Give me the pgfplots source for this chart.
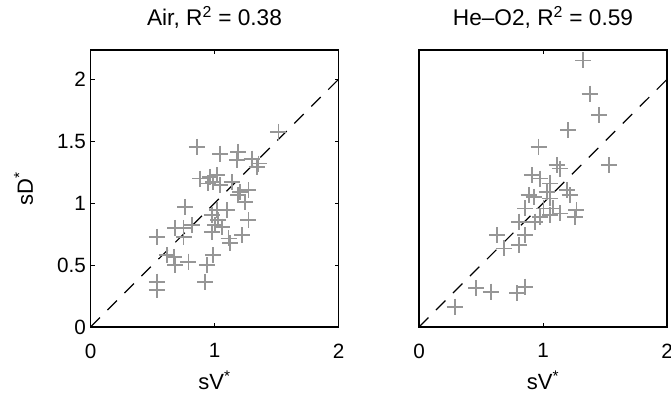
\documentclass[border=0pt]{standalone}
\usepackage{fontspec}
\setmainfont{Liberation Sans}
\usepackage{pgfplots}
\pgfplotsset{compat=1.18}
\definecolor{crossgray}{RGB}{150,150,150}
\begin{document}
\begin{tikzpicture}[x=1pt,y=1pt]
\pgfplotsset{
  every axis/.append style={
    scale only axis, width=186pt, height=208pt,
    xmin=0, xmax=2, ymin=0, ymax=2.24,
    xtick={0,1,2},
    tick align=inside, major tick length=3pt,
    axis line style={line width=1.3pt},
    tick style={line width=0.7pt, black},
    font=\fontsize{15.5}{18}\selectfont,
    /pgf/number format/assume math mode=true,
    title style={at={(axis description cs:0.5,1)}, anchor=center, yshift=18pt, font=\fontsize{17}{20}\selectfont},
    xlabel style={at={(axis description cs:0.5,0)}, anchor=center, yshift=-40pt, font=\fontsize{16.5}{20}\selectfont},
    xticklabel style={yshift=-9pt},
  },
}
\begin{axis}[at={(0,0)}, anchor=south west,
  ytick={0,0.5,1,1.5,2},
  yticklabels={0,0.5,1,1.5,2},
  title={Air, R\textsuperscript{2} = 0.38},
  xlabel={sV\textsuperscript{*}}, ylabel={sD\textsuperscript{*}},
  ylabel style={at={(axis description cs:-0.27,0.5)}, anchor=center, font=\fontsize{16.5}{20}\selectfont}]
\addplot[black, line width=0.9pt, dash pattern=on 10pt off 8pt] coordinates {(0,0) (2,2)};
\addplot[only marks, mark=+, mark size=6pt, crossgray, mark options={line width=1.4pt}] coordinates {
(1.516,1.575) (0.857,1.454) (1.046,1.400) (1.190,1.414) (1.180,1.347)
(1.300,1.360) (1.355,1.320) (1.340,1.290) (0.884,1.199) (0.965,1.212)
(0.990,1.172) (1.019,1.226) (1.046,1.145) (0.950,1.159) (1.140,1.170)
(1.207,1.090) (1.274,1.105) (1.247,1.010) (1.190,1.065) (0.763,0.970)
(1.020,0.944) (0.978,0.903) (1.100,0.944) (1.030,0.863) (1.005,0.823)
(1.060,0.810) (1.274,0.863) (1.220,0.742) (1.113,0.715) (1.126,0.675)
(0.817,0.823) (0.750,0.796) (0.683,0.800) (0.750,0.728) (0.535,0.728)
(0.616,0.580) (0.670,0.567) (0.683,0.500) (0.790,0.527) (0.990,0.580)
(0.940,0.500) (0.925,0.366) (0.535,0.366) (0.535,0.298) (0.978,0.770)
};
\end{axis}
\begin{axis}[at={(246.4pt,0)}, anchor=south west,
  ytick=\empty,
  title={He--O2, R\textsuperscript{2} = 0.59},
  xlabel={sV\textsuperscript{*}}]
\addplot[black, line width=0.9pt, dash pattern=on 10pt off 8pt] coordinates {(0,0) (2,2)};
\addplot[only marks, mark=+, mark size=6pt, crossgray, mark options={line width=1.4pt}] coordinates {
(1.323,2.153) (1.376,1.884) (1.455,1.710) (1.203,1.589) (0.964,1.454)
(1.535,1.306) (1.110,1.306) (1.137,1.280) (0.911,1.226) (0.977,1.199)
(1.057,1.159) (1.190,1.105) (1.216,1.065) (0.884,1.065) (0.924,1.050)
(1.057,1.038) (0.858,0.957) (1.004,0.957) (1.084,0.957) (1.270,0.944)
(1.256,0.890) (1.137,0.917) (1.057,0.903) (0.977,0.890) (0.938,0.850)
(0.805,0.850) (0.858,0.742) (0.805,0.661) (0.632,0.742) (0.685,0.634)
(0.460,0.312) (0.579,0.285) (0.791,0.272) (0.858,0.325) (0.287,0.164)
(1.030,1.090)
};
\end{axis}
\pgfresetboundingbox
\path[use as bounding box] (-67.9pt,-49.5pt) rectangle (435.4pt,245.25pt);
\end{tikzpicture}
\end{document}
